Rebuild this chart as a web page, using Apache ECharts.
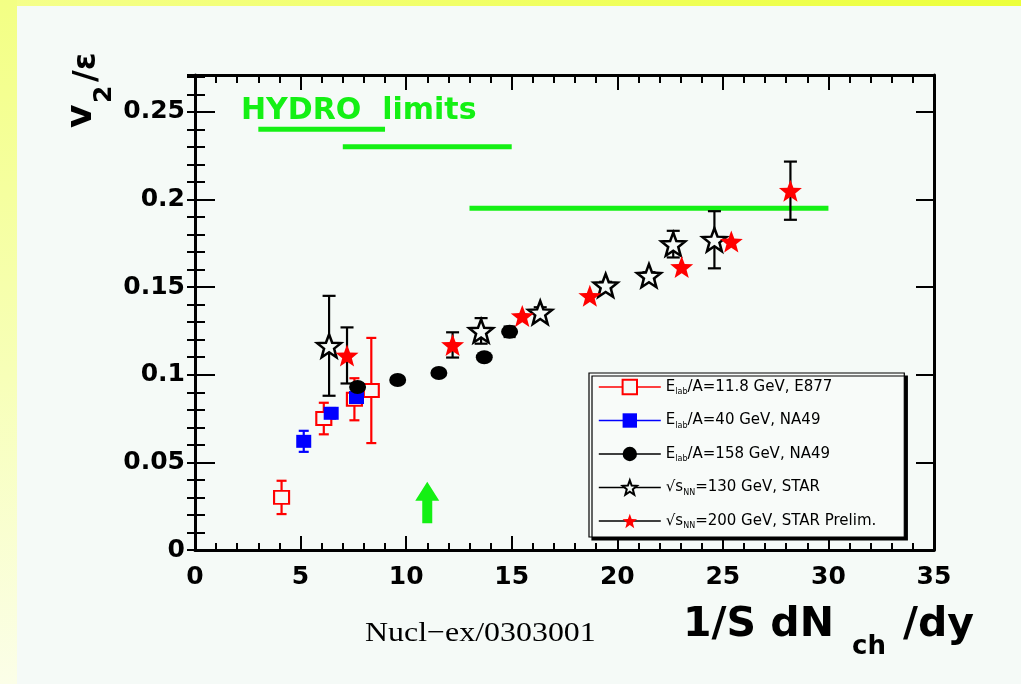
<!DOCTYPE html>
<html>
<head>
<meta charset="utf-8">
<script src="https://cdn.jsdelivr.net/npm/echarts@6/dist/echarts.min.js"></script>
<style>
  html, body { margin: 0; padding: 0; width: 1021px; height: 684px; overflow: hidden; }
  #topband { position: absolute; left: 0; top: 0; width: 1021px; height: 684px;
             background: linear-gradient(to right, #f5ff8c, #ecff3a); }
  #leftband { position: absolute; left: 0; top: 0; width: 17px; height: 684px;
              background: linear-gradient(to bottom, #f3ff84, #f7ffb8 55%, #fbfee8); }
  #panel { position: absolute; left: 17px; top: 6px; right: 0; bottom: 0; background: #f5faf7; }
  #chart { position: absolute; left: 0; top: 0; width: 1021px; height: 684px; }
</style>
</head>
<body>
<div id="topband"></div>
<div id="leftband"></div>
<div id="panel"></div>
<div id="chart"></div>
<script>
// v2/eps versus 1/S dNch/dy : [x, y] points and their (symmetric) errors
const e877 = [[4.1, 0.030], [6.1, 0.075], [7.55, 0.086], [8.35, 0.091]];
const e877Err = [0.0095, 0.009, 0.012, 0.030];

const na49_40 = [[5.15, 0.062], [6.45, 0.078], [7.65, 0.087]];
const na49_40Err = [0.006, 0.003, 0.003];

const na49_158 = [[7.7, 0.093], [9.6, 0.097], [11.55, 0.101], [13.7, 0.110], [14.9, 0.1245]];
const na49_158Err = [0.002, 0.001, 0.001, 0.001, 0.003];

const star130 = [[6.35, 0.1165], [13.55, 0.125], [16.35, 0.1355], [19.45, 0.151],
                 [21.5, 0.1565], [22.65, 0.1745], [24.6, 0.177]];
const star130Err = [0.0285, 0.0073, 0.003, 0.002, 0.002, 0.0076, 0.0163];

const star200 = [[7.2, 0.111], [12.2, 0.117], [15.5, 0.1335], [18.7, 0.145],
                 [23.05, 0.1615], [25.4, 0.176], [28.2, 0.205]];
const star200Err = [0.016, 0.0072, 0, 0, 0, 0, 0.0166];

// hydro limits: [xFrom, xTo, v2/eps]
const hydroLimits = [[3, 9, 0.24], [7, 15, 0.23], [13, 30, 0.195]];
// arrow: [x, yBase, yTip]
const arrowMark = [[11, 0.0152, 0.039]];

const xTicks = { min: 0, max: 35, step: 5 };
const yTicks = { min: 0, max: 0.271, step: 0.05, minorStep: 0.01 };

const seriesNames = ['E877', 'NA49_40', 'NA49_158', 'STAR130', 'STAR200'];
const legendText = {
  E877: 'E{sub|lab}/A=11.8 GeV, E877',
  NA49_40: 'E{sub|lab}/A=40 GeV, NA49',
  NA49_158: 'E{sub|lab}/A=158 GeV, NA49',
  STAR130: '√s{sub|NN}=130 GeV, STAR',
  STAR200: '√s{sub|NN}=200 GeV, STAR Prelim.'
};

const GREEN = '#14f014';
const PANEL = '#f5faf7';
const SANS = 'DejaVu Sans';

// five-pointed star outline used as a symbol
function starSymbol() {
  const pts = [];
  for (let i = 0; i < 10; i++) {
    const r = i % 2 === 0 ? 1 : 0.42;
    const a = -Math.PI / 2 + i * Math.PI / 5;
    pts.push((r * Math.cos(a)).toFixed(4) + ',' + (r * Math.sin(a)).toFixed(4));
  }
  return 'path://M' + pts.join('L') + 'Z';
}
const STAR = starSymbol();

function withErr(points, errs) {
  return points.map((p, i) => [p[0], p[1], errs[i]]);
}

function errorBars(points, errs, color, capHalf) {
  return {
    type: 'custom',
    silent: true,
    z: 2,
    data: withErr(points, errs),
    renderItem: function (params, api) {
      const x = api.value(0), y = api.value(1), e = api.value(2);
      if (!e) return null;
      const hi = api.coord([x, y + e]);
      const lo = api.coord([x, y - e]);
      const st = { stroke: color, lineWidth: 2.2 };
      return {
        type: 'group',
        children: [
          { type: 'line', shape: { x1: hi[0], y1: hi[1], x2: lo[0], y2: lo[1] }, style: st },
          { type: 'line', shape: { x1: hi[0] - capHalf, y1: hi[1], x2: hi[0] + capHalf, y2: hi[1] }, style: st },
          { type: 'line', shape: { x1: lo[0] - capHalf, y1: lo[1], x2: lo[0] + capHalf, y2: lo[1] }, style: st }
        ]
      };
    }
  };
}

function markers(name, points, symbol, size, itemStyle, lineColor) {
  return {
    name: name,
    type: 'line',
    z: 3,
    data: points,
    symbol: symbol,
    symbolSize: size,
    showSymbol: true,
    showAllSymbol: true,
    itemStyle: itemStyle,
    lineStyle: { color: lineColor, width: 0, opacity: 0 },
    emphasis: { disabled: true }
  };
}

const hydroSeries = {
  type: 'custom',
  silent: true,
  z: 1,
  data: hydroLimits,
  renderItem: function (params, api) {
    const a = api.coord([api.value(0), api.value(2)]);
    const b = api.coord([api.value(1), api.value(2)]);
    return {
      type: 'line',
      shape: { x1: a[0], y1: a[1], x2: b[0], y2: b[1] },
      style: { stroke: GREEN, lineWidth: 5 }
    };
  }
};

const arrowSeries = {
  type: 'custom',
  silent: true,
  z: 1,
  data: arrowMark,
  renderItem: function (params, api) {
    const base = api.coord([api.value(0), api.value(1)]);
    const tip = api.coord([api.value(0), api.value(2)]);
    const x = tip[0], hw = 12, sw = 5, hl = 19;
    return {
      type: 'polygon',
      shape: {
        points: [
          [x, tip[1]], [x + hw, tip[1] + hl], [x + sw, tip[1] + hl], [x + sw, base[1]],
          [x - sw, base[1]], [x - sw, tip[1] + hl], [x - hw, tip[1] + hl]
        ]
      },
      style: { fill: GREEN }
    };
  }
};

const frameLine = { show: true, onZero: false, lineStyle: { color: '#000', width: 3 } };
const tickLine = { color: '#000', width: 2 };
const labelFont = { color: '#000', fontFamily: SANS, fontWeight: 'bold', fontSize: 25 };

const chart = echarts.init(document.getElementById('chart'), null, { renderer: 'canvas' });

chart.setOption({
  animation: false,
  backgroundColor: 'transparent',
  grid: { left: 195, right: 87, top: 75, bottom: 134 },
  xAxis: [
    {
      type: 'value', position: 'bottom', min: xTicks.min, max: xTicks.max, interval: xTicks.step,
      axisLine: frameLine,
      axisTick: { show: true, inside: true, length: 14, lineStyle: tickLine },
      minorTick: { show: true, splitNumber: 5, length: 7, lineStyle: tickLine },
      axisLabel: Object.assign({ margin: 15 }, labelFont),
      splitLine: { show: false }
    },
    {
      type: 'value', position: 'top', min: xTicks.min, max: xTicks.max, interval: xTicks.step,
      axisLine: frameLine,
      axisTick: { show: true, inside: true, length: 15, lineStyle: tickLine },
      minorTick: { show: true, splitNumber: 5, length: 8, lineStyle: tickLine },
      axisLabel: { show: false },
      splitLine: { show: false }
    }
  ],
  yAxis: [
    {
      type: 'value', position: 'left', min: yTicks.min, max: yTicks.max, interval: yTicks.step,
      axisLine: frameLine,
      axisTick: { show: true, inside: true, length: 20, lineStyle: tickLine },
      axisLabel: Object.assign({ margin: 10, showMaxLabel: false }, labelFont),
      splitLine: { show: false }
    },
    {
      type: 'value', position: 'left', min: yTicks.min, max: yTicks.max, interval: yTicks.minorStep,
      axisLine: { show: false },
      axisTick: { show: true, inside: true, length: 10, lineStyle: tickLine },
      axisLabel: { show: false },
      splitLine: { show: false }
    },
    {
      type: 'value', position: 'right', min: yTicks.min, max: yTicks.max, interval: yTicks.step,
      axisLine: frameLine,
      axisTick: { show: true, inside: true, length: 18, lineStyle: tickLine },
      axisLabel: { show: false },
      splitLine: { show: false }
    },
    {
      type: 'value', position: 'right', min: yTicks.min, max: yTicks.max, interval: yTicks.minorStep,
      axisLine: { show: false },
      axisTick: { show: true, inside: true, length: 8, lineStyle: tickLine },
      axisLabel: { show: false },
      splitLine: { show: false }
    }
  ],
  legend: {
    data: seriesNames,
    orient: 'vertical',
    left: 589,
    top: 373,
    padding: [5, 28, 7, 9],
    itemWidth: 62,
    itemHeight: 18,
    itemGap: 15.5,
    selectedMode: false,
    backgroundColor: '#f8fbf9',
    borderColor: '#000',
    borderWidth: 1.2,
    borderRadius: 0,
    shadowColor: '#000',
    shadowBlur: 0,
    shadowOffsetX: 3,
    shadowOffsetY: 3,
    lineStyle: { width: 1.6, opacity: 1 },
    formatter: function (name) { return legendText[name]; },
    textStyle: {
      color: '#000', fontFamily: SANS, fontSize: 15, lineHeight: 18,
      rich: { sub: { fontFamily: SANS, fontSize: 8, lineHeight: 13, verticalAlign: 'bottom', color: '#000' } }
    }
  },
  graphic: [
    {
      type: 'text', left: 241, top: 96, silent: true,
      style: { text: 'HYDRO  limits', fill: GREEN, font: 'bold 30px "DejaVu Sans"' }
    },
    // x-axis title
    {
      type: 'text', x: 683, y: 625, silent: true,
      style: { text: '1/S dN', fill: '#000', font: 'bold 41px "DejaVu Sans"', verticalAlign: 'middle' }
    },
    {
      type: 'text', x: 852, y: 647, silent: true,
      style: { text: 'ch', fill: '#000', font: 'bold 26px "DejaVu Sans"', verticalAlign: 'middle' }
    },
    {
      type: 'text', x: 903, y: 625, silent: true,
      style: { text: '/dy', fill: '#000', font: 'bold 41px "DejaVu Sans"', verticalAlign: 'middle' }
    },
    // y-axis title, rotated
    {
      type: 'text', x: 82, y: 128, rotation: Math.PI / 2, silent: true,
      style: { text: 'v', fill: '#000', font: 'bold 36px "DejaVu Sans"', verticalAlign: 'middle', align: 'left' }
    },
    {
      type: 'text', x: 104, y: 103, rotation: Math.PI / 2, silent: true,
      style: { text: '2', fill: '#000', font: 'bold 25px "DejaVu Sans"', verticalAlign: 'middle', align: 'left' }
    },
    {
      type: 'text', x: 87, y: 82, rotation: Math.PI / 2, silent: true,
      style: { text: '/ε', fill: '#000', font: 'bold 32px "DejaVu Sans"', verticalAlign: 'middle', align: 'left' }
    },
    // reference tag
    {
      type: 'text', x: 365, y: 634, scaleX: 1.14, silent: true,
      style: { text: 'Nucl−ex/0303001', fill: '#000', font: '28px "Liberation Serif"', verticalAlign: 'middle' }
    }
  ],
  series: [
    hydroSeries,
    arrowSeries,
    errorBars(e877, e877Err, '#ff0000', 5),
    errorBars(na49_40, na49_40Err, '#0000ff', 5),
    errorBars(na49_158, na49_158Err, '#000', 6),
    errorBars(star130, star130Err, '#000', 6.5),
    errorBars(star200, star200Err, '#000', 6.5),
    markers('E877', e877, 'rect', [15, 13], { color: PANEL, borderColor: '#ff0000', borderWidth: 2 }, '#ff0000'),
    markers('NA49_40', na49_40, 'rect', [15, 13], { color: '#0000ff', borderWidth: 0 }, '#0000ff'),
    markers('NA49_158', na49_158, 'circle', [17, 14], { color: '#000', borderWidth: 0 }, '#000'),
    markers('STAR130', star130, STAR, [24, 23], { color: PANEL, borderColor: '#000', borderWidth: 2.5 }, '#000'),
    markers('STAR200', star200, STAR, [23, 22], { color: '#ff0000', borderWidth: 0 }, '#000')
  ]
});
</script>
</body>
</html>
